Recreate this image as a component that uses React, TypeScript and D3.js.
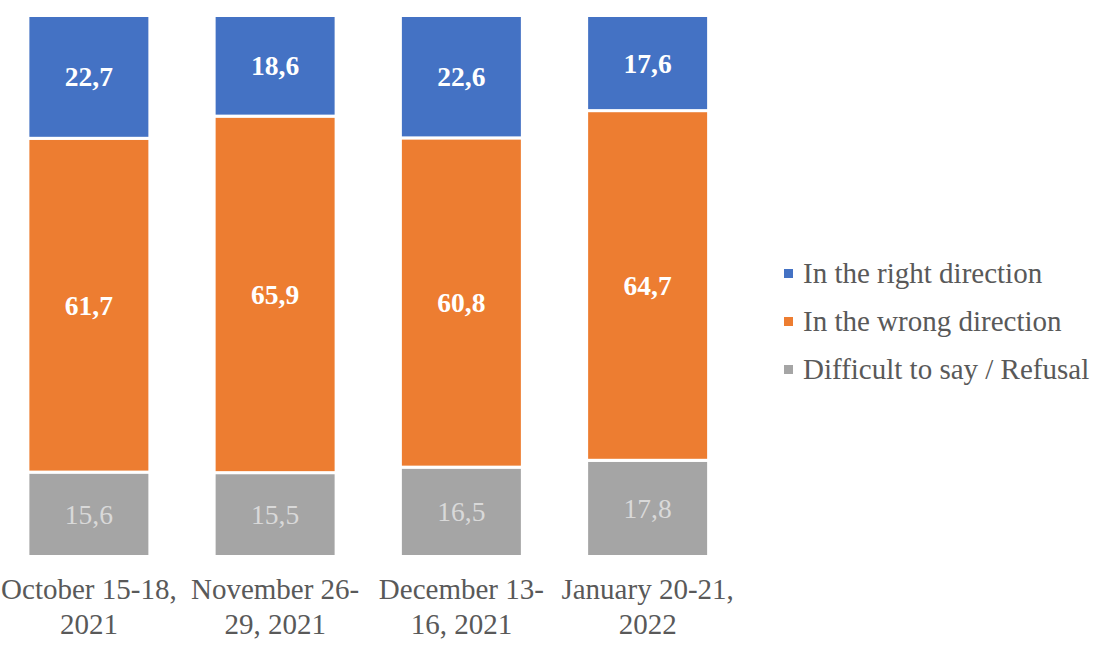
import { scaleBand, scaleLinear, stack, stackOffsetExpand } from "d3";

const categories = ["oct", "nov", "dec", "jan"];
const categoryLines = [
  ["October 15-18,", "2021"],
  ["November 26-", "29, 2021"],
  ["December 13-", "16, 2021"],
  ["January 20-21,", "2022"]
];
const seriesKeys = ["right", "wrong", "difficult"];
const seriesNames = ["In the right direction", "In the wrong direction", "Difficult to say / Refusal"];
const rightValues = [22.7, 18.6, 22.6, 17.6];
const wrongValues = [61.7, 65.9, 60.8, 64.7];
const difficultValues = [15.6, 15.5, 16.5, 17.8];

const colors = ["#4472C4", "#ED7D31", "#A5A5A5"];
const labelColors = ["#ffffff", "#ffffff", "#D9D9D9"];
const labelWeights = ["bold", "bold", "normal"];

const width = 1102;
const height = 660;
const font = "'Liberation Serif', 'Times New Roman', serif";

export default function App(): React.JSX.Element {
  const rows = categories.map((cat, i) => ({
    cat,
    right: rightValues[i],
    wrong: wrongValues[i],
    difficult: difficultValues[i]
  }));
  // stack bottom-up: difficult first, then wrong, then right on top
  const order = ["difficult", "wrong", "right"];
  const stacked = stack<(typeof rows)[number]>()
    .keys(order)
    .offset(stackOffsetExpand)(rows);

  const x = scaleBand<string>()
    .domain(categories)
    .range([-4.25, 740.75])
    .paddingInner(0.345)
    .paddingOuter(0.1725);
  const y = scaleLinear().domain([0, 1]).range([556.5, 15.5]);

  return (
    <svg
      width={width}
      height={height}
      style={{ position: "absolute", left: 0, top: 0, display: "block", background: "#fff" }}
      fontFamily={font}
    >
      {stacked.map((layer) => {
        const si = seriesKeys.indexOf(layer.key);
        return (
          <g key={layer.key}>
            {layer.map((d, i) => {
              const x0 = x(categories[i]) ?? 0;
              const y0 = y(d[1]);
              const y1 = y(d[0]);
              const value = rows[i][layer.key as "right" | "wrong" | "difficult"];
              return (
                <g key={categories[i]}>
                  <rect
                    x={x0}
                    y={y0}
                    width={x.bandwidth()}
                    height={y1 - y0}
                    fill={colors[si]}
                    stroke="#fff"
                    strokeWidth={3}
                  />
                  <text
                    x={x0 + x.bandwidth() / 2}
                    y={(y0 + y1) / 2 + 9.5}
                    textAnchor="middle"
                    fontSize={27.5}
                    fontWeight={labelWeights[si]}
                    fill={labelColors[si]}
                  >
                    {value.toFixed(1).replace(".", ",")}
                  </text>
                </g>
              );
            })}
          </g>
        );
      })}
      {categories.map((cat, i) => (
        <text
          key={cat}
          x={(x(cat) ?? 0) + x.bandwidth() / 2}
          textAnchor="middle"
          fontSize={29}
          fill="#595959"
        >
          {categoryLines[i].map((ln, j) => (
            <tspan key={ln} x={(x(cat) ?? 0) + x.bandwidth() / 2} y={599 + j * 35}>
              {ln}
            </tspan>
          ))}
        </text>
      ))}
      {seriesNames.map((name, i) => (
        <g key={name} transform={`translate(784, ${283 + i * 48})`}>
          <rect x={0} y={-14} width={9} height={9} fill={colors[i]} />
          <text x={19} y={0} fontSize={29} fill="#595959">
            {name}
          </text>
        </g>
      ))}
    </svg>
  );
}
